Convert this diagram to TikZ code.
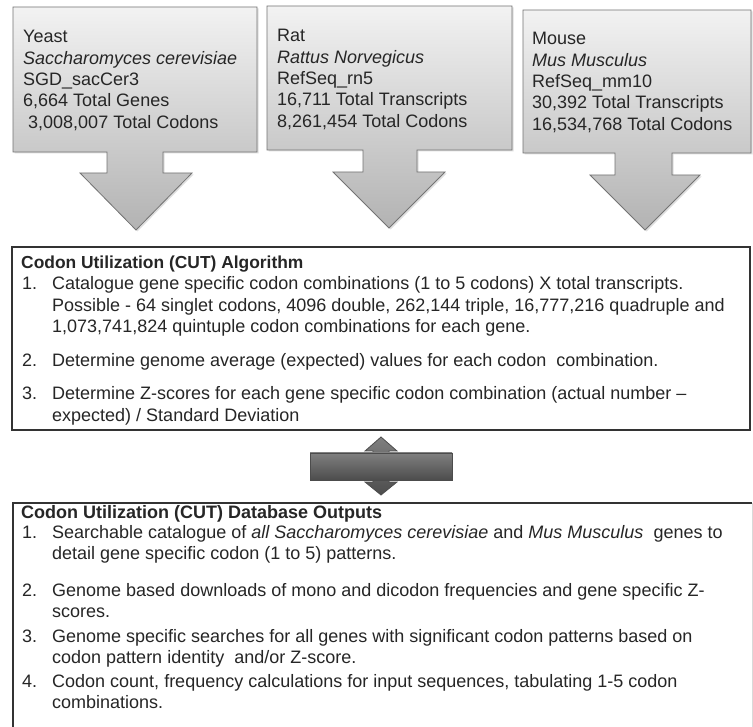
\documentclass[tikz,border=0pt]{standalone}
\usepackage{fontspec}
\setmainfont{Liberation Sans}
\usepackage{tikz}
\usetikzlibrary{shadows}

% lines of a label, the node sits on the baseline of the first one
\newcommand{\stacklines}[1]{\begin{tabular}[t]{@{}l@{}}#1\end{tabular}}

\begin{document}
\begin{tikzpicture}[x=1pt, y=-1pt,
        txt/.style={anchor=base west, inner sep=0pt, text=black!85,
            font=\fontsize{18}{21.3}\selectfont},
        head/.style={txt, font=\fontsize{17.4}{21.3}\selectfont\bfseries},
        callout/.style={draw=black!55, line width=0.8pt, top color=black!5, bottom color=black!30,
            drop shadow={opacity=0.25, shadow xshift=1.5pt, shadow yshift=-1.5pt}},
        panel/.style={draw=black!80, line width=2pt},
        twoway/.style={draw=black!70, line width=0.8pt, top color=black!50, bottom color=black!70}]
        \useasboundingbox[fill=white] (0,0) rectangle (753,727);
        \clip (0,0) rectangle (753,727);

        % Genome arrows
        \path[callout] (13,7) -- (257,7) -- (257,152) -- (163,152) -- (163,173) -- (192,173)
            -- (136,230) -- (80,173) -- (107,173) -- (107,152) -- (13,152) -- cycle;
        \path[callout] (267,6) -- (512,6) -- (512,150) -- (417,150) -- (417,172) -- (445,172)
            -- (389,228) -- (333,172) -- (363,172) -- (363,150) -- (267,150) -- cycle;
        \path[callout] (523,10) -- (751,10) -- (751,153) -- (672,153) -- (672,175) -- (700,175)
            -- (645,230) -- (590,175) -- (615,175) -- (615,153) -- (523,153) -- cycle;

        % Genome labels
        \node[txt] (yeast) at (23,43) {\stacklines{Yeast\\\textit{Saccharomyces cerevisiae}\\SGD\_sacCer3\\6,664 Total Genes\\\ 3,008,007 Total Codons}};
        \node[txt] (rat) at (277,42) {\stacklines{Rat\\\textit{Rattus Norvegicus}\\RefSeq\_rn5\\16,711 Total Transcripts\\8,261,454 Total Codons}};
        \node[txt] (mouse) at (532,45) {\stacklines{Mouse\\\textit{Mus Musculus}\\RefSeq\_mm10\\30,392 Total Transcripts\\16,534,768 Total Codons}};

        % Algorithm box
        \draw[panel] (12,247) rectangle (750,430);
        \node[head] (algtitle) at (21,269) {Codon Utilization (CUT) Algorithm};
        \node[txt] (alg1n) at (22,290) {1.};
        \node[txt] (alg1) at (52,290) {\stacklines{Catalogue gene specific codon combinations (1 to 5 codons) X total transcripts.\\Possible - 64 singlet codons, 4096 double, 262,144 triple, 16,777,216 quadruple and\\1,073,741,824 quintuple codon combinations for each gene.}};
        \node[txt] (alg2n) at (22,367) {2.};
        \node[txt] (alg2) at (52,367) {Determine genome average (expected) values for each codon~ combination.};
        \node[txt] (alg3n) at (22,400) {3.};
        \node[txt] (alg3) at (52,400) {\stacklines{Determine Z-scores for each gene specific codon combination (actual number --\\expected) / Standard Deviation}};

        % Two way arrow
        \path[twoway] (381,437) -- (397,451) -- (389,451) -- (389,482) -- (397,482) -- (381,495)
            -- (365,482) -- (373,482) -- (373,451) -- (365,451) -- cycle;
        \path[twoway] (310,453) rectangle (452,480);

        % Database box
        \draw[panel] (13,745) -- (13,503) -- (752,503);
        \draw[black!15, line width=1pt] (752,503) -- (752,745);
        \node[head, font=\fontsize{18}{21.3}\selectfont\bfseries] (dbtitle) at (21,518) {Codon Utilization (CUT) Database Outputs};
        \node[txt] (db1n) at (22,538) {1.};
        \node[txt] (db1) at (52,538) {\stacklines{Searchable catalogue of \textit{all Saccharomyces cerevisiae} and \textit{Mus Musculus}~ genes to\\detail gene specific codon (1 to 5) patterns.}};
        \node[txt] (db2n) at (22,596) {2.};
        \node[txt] (db2) at (52,596) {\stacklines{Genome based downloads of mono and dicodon frequencies and gene specific Z-\\scores.}};
        \node[txt] (db3n) at (22,642) {3.};
        \node[txt] (db3) at (52,642) {\stacklines{Genome specific searches for all genes with significant codon patterns based on\\codon pattern identity~ and/or Z-score.}};
        \node[txt] (db4n) at (22,687) {4.};
        \node[txt] (db4) at (52,687) {\stacklines{Codon count, frequency calculations for input sequences, tabulating 1-5 codon\\combinations.}};
    \end{tikzpicture}
\end{document}
